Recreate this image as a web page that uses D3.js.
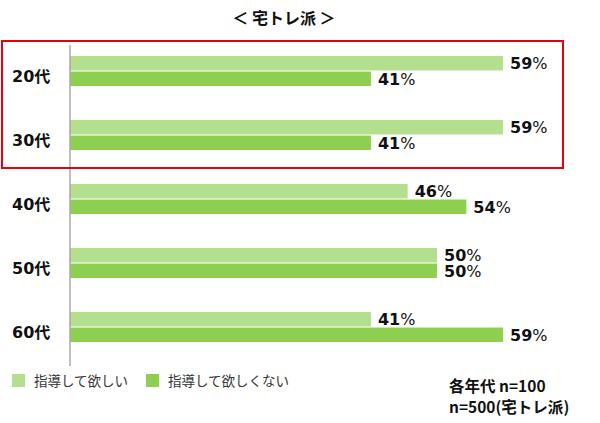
<!DOCTYPE html>
<html>
<head>
<meta charset="utf-8">
<script src="https://cdn.jsdelivr.net/npm/d3@7"></script>
<style>
  body { margin: 0; background: #fff; }
  svg { display: block; font-family: "DejaVu Sans", "Noto Sans CJK JP", sans-serif; }
</style>
</head>
<body>
<svg width="600" height="423"></svg>
<script>
// data
const ages = ['20代', '30代', '40代', '50代', '60代'];
const seriesNames = ['指導して欲しい', '指導して欲しくない'];
const wantGuide = [59, 59, 46, 50, 41];
const noGuide = [41, 41, 54, 50, 59];
const highlighted = ['20代', '30代'];

const colors = ['#b4df8e', '#8fcf4f'];

const svg = d3.select('svg');
const left = 70;

const x = d3.scaleLinear().domain([0, 100]).range([left, left + 734]);

const y = d3.scaleBand().domain(ages).range([38, 358]);
const inner = d3.scaleBand().domain([0, 1]).range([18, 48]).paddingInner(0.07);

const rows = ages.map((a, i) => ({ age: a, vals: [wantGuide[i], noGuide[i]] }));

// title
svg.append('text')
  .attr('x', 284).attr('y', 24)
  .attr('text-anchor', 'middle')
  .attr('font-family', '"Noto Sans CJK JP", sans-serif')
  .attr('font-weight', 'bold').attr('font-size', 16)
  .attr('fill', '#111')
  .text('＜ 宅トレ派 ＞');

const g = svg.selectAll('g.row')
  .data(rows)
  .join('g')
  .attr('class', 'row')
  .attr('transform', d => 'translate(0,' + y(d.age) + ')');

g.selectAll('rect')
  .data(d => d.vals.map((v, k) => ({ v, k })))
  .join('rect')
  .attr('x', x(0))
  .attr('y', d => inner(d.k))
  .attr('width', d => x(d.v) - x(0))
  .attr('height', inner.bandwidth())
  .attr('fill', d => colors[d.k]);

const lab = g.selectAll('text.val')
  .data(d => d.vals.map((v, k) => ({ v, k })))
  .join('text')
  .attr('class', 'val')
  .attr('x', d => x(d.v) + 7)
  .attr('y', d => inner(d.k) + inner.bandwidth() / 2 + 6)
  .attr('font-size', 16)
  .attr('fill', '#111');
lab.append('tspan').attr('font-weight', 'bold').text(d => d.v);
lab.append('tspan').attr('font-weight', 'normal').text('%');

g.append('text')
  .attr('x', 12)
  .attr('y', 44)
  .attr('font-family', '"DejaVu Sans", "Noto Sans CJK JP", sans-serif')
  .attr('font-weight', 'bold').attr('font-size', 16)
  .attr('fill', '#111')
  .text(d => d.age);

// axis line
svg.append('line')
  .attr('x1', left).attr('x2', left)
  .attr('y1', 45).attr('y2', 366)
  .attr('stroke', '#aaa').attr('stroke-width', 1.5);

// red highlight box
const hy0 = y(highlighted[0]) + 3;
const hy1 = y(highlighted[highlighted.length - 1]) + y.bandwidth() + 2;
svg.append('rect')
  .attr('x', 2).attr('y', hy0)
  .attr('width', 561).attr('height', hy1 - hy0)
  .attr('fill', 'none')
  .attr('stroke', '#e60012').attr('stroke-width', 2);

// legend
const leg = svg.selectAll('g.leg')
  .data(seriesNames)
  .join('g')
  .attr('class', 'leg')
  .attr('transform', (d, i) => 'translate(' + [12, 146][i] + ',374)');
leg.append('rect').attr('width', 13).attr('height', 13).attr('fill', (d, i) => colors[i]);
leg.append('text')
  .attr('x', 22).attr('y', 12)
  .attr('font-family', '"Noto Sans CJK JP", sans-serif')
  .attr('font-size', 13.5).attr('fill', '#333')
  .text(d => d);

// sample note
const notes = ['各年代 n=100', 'n=500(宅トレ派)'];
svg.selectAll('text.note')
  .data(notes)
  .join('text')
  .attr('class', 'note')
  .attr('x', 449)
  .attr('y', (d, i) => 392 + i * 21)
  .attr('font-family', '"Noto Sans CJK JP", sans-serif')
  .attr('font-weight', 'bold').attr('font-size', 15.5)
  .attr('fill', '#111')
  .text(d => d);
</script>
</body>
</html>
